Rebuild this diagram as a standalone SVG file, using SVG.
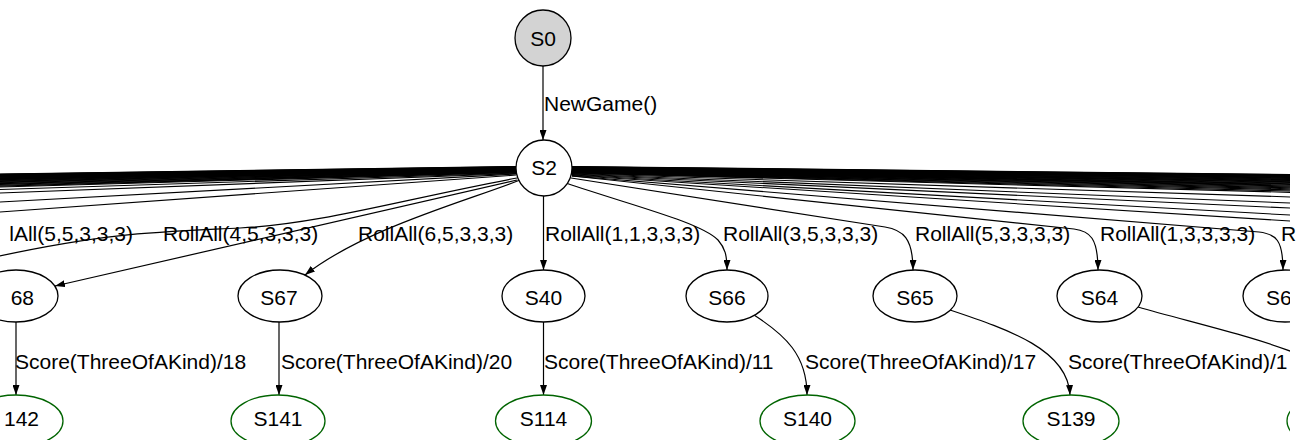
<svg xmlns="http://www.w3.org/2000/svg" width="1297" height="440" viewBox="0 0 1297 440">
<defs>
<style>
.e{fill:none;stroke:#000;stroke-width:1.2}
.f{fill:none;stroke:#000;stroke-width:1.1}
.n{fill:#fff;stroke:#000;stroke-width:1.3}
.s{fill:#d3d3d3;stroke:#000;stroke-width:1.3}
.g{fill:#fff;stroke:#006400;stroke-width:1.3}
text{font-family:"Liberation Sans",Arial,Helvetica,sans-serif;font-size:21px;fill:#000}
.c{text-anchor:middle}
.r{text-anchor:end}
</style>
<marker id="a" markerUnits="userSpaceOnUse" markerWidth="10" markerHeight="7" refX="10" refY="3.5" orient="auto"><path d="M0,0L10,3.5L0,7z" fill="#000"/></marker>
<clipPath id="clip"><rect x="0" y="0" width="1290" height="440"/></clipPath>
</defs>
<rect width="1297" height="440" fill="#fff"/>
<g clip-path="url(#clip)">
<g id="connectors">
<g id="fan-left">
<line class="f" x1="516" y1="166.5" x2="-5" y2="174.1"/>
<line class="f" x1="516" y1="166.7" x2="-5" y2="174.4"/>
<line class="f" x1="516" y1="167" x2="-5" y2="174.7"/>
<line class="f" x1="516" y1="167.2" x2="-5" y2="175"/>
<line class="f" x1="516" y1="167.4" x2="-5" y2="175.3"/>
<line class="f" x1="516" y1="167.6" x2="-5" y2="175.6"/>
<line class="f" x1="516" y1="167.9" x2="-5" y2="175.9"/>
<line class="f" x1="516" y1="168.1" x2="-5" y2="176.2"/>
<line class="f" x1="516" y1="168.3" x2="-5" y2="176.6"/>
<line class="f" x1="516" y1="168.6" x2="-5" y2="177"/>
<line class="f" x1="516" y1="168.8" x2="-5" y2="177.4"/>
<line class="f" x1="516" y1="169" x2="-5" y2="177.8"/>
<line class="f" x1="516" y1="169.3" x2="-5" y2="178.2"/>
<line class="f" x1="516" y1="169.5" x2="-5" y2="178.7"/>
<line class="f" x1="516" y1="169.7" x2="-5" y2="179.2"/>
<line class="f" x1="516" y1="170" x2="-5" y2="179.7"/>
<line class="f" x1="516" y1="170.2" x2="-5" y2="180.3"/>
<line class="f" x1="516" y1="170.4" x2="-5" y2="180.9"/>
<line class="f" x1="516" y1="170.6" x2="-5" y2="181.5"/>
<line class="f" x1="516" y1="170.9" x2="-5" y2="182.2"/>
<line class="f" x1="516" y1="171.1" x2="-5" y2="182.9"/>
<line class="f" x1="516" y1="171.3" x2="-5" y2="183.7"/>
<line class="f" x1="516" y1="171.6" x2="-5" y2="184.5"/>
<line class="f" x1="516" y1="171.8" x2="-5" y2="185.4"/>
<line class="f" x1="516" y1="172" x2="-5" y2="186.3"/>
<line class="f" x1="516" y1="172.5" x2="-5" y2="187.1"/>
<line class="f" x1="516" y1="173" x2="-5" y2="189.6"/>
<line class="f" x1="516" y1="173.5" x2="-5" y2="193.2"/>
<line class="f" x1="516" y1="174" x2="-5" y2="202.3"/>
<line class="f" x1="516" y1="175" x2="-5" y2="212.4"/>
</g>
<g id="fan-right">
<line class="f" x1="572" y1="166.5" x2="1300" y2="174.6"/>
<line class="f" x1="572" y1="166.7" x2="1300" y2="174.9"/>
<line class="f" x1="572" y1="166.9" x2="1300" y2="175.2"/>
<line class="f" x1="572" y1="167.2" x2="1300" y2="175.5"/>
<line class="f" x1="572" y1="167.4" x2="1300" y2="175.8"/>
<line class="f" x1="572" y1="167.6" x2="1300" y2="176.1"/>
<line class="f" x1="572" y1="167.8" x2="1300" y2="176.5"/>
<line class="f" x1="572" y1="168" x2="1300" y2="176.9"/>
<line class="f" x1="572" y1="168.3" x2="1300" y2="177.3"/>
<line class="f" x1="572" y1="168.5" x2="1300" y2="177.7"/>
<line class="f" x1="572" y1="168.7" x2="1300" y2="178.1"/>
<line class="f" x1="572" y1="168.9" x2="1300" y2="178.6"/>
<line class="f" x1="572" y1="169.1" x2="1300" y2="179.1"/>
<line class="f" x1="572" y1="169.4" x2="1300" y2="179.6"/>
<line class="f" x1="572" y1="169.6" x2="1300" y2="180.1"/>
<line class="f" x1="572" y1="169.8" x2="1300" y2="180.7"/>
<line class="f" x1="572" y1="170" x2="1300" y2="181.3"/>
<line class="f" x1="572" y1="170.2" x2="1300" y2="181.9"/>
<line class="f" x1="572" y1="170.5" x2="1300" y2="182.5"/>
<line class="f" x1="572" y1="170.7" x2="1300" y2="183.2"/>
<line class="f" x1="572" y1="170.9" x2="1300" y2="183.9"/>
<line class="f" x1="572" y1="171.1" x2="1300" y2="184.6"/>
<line class="f" x1="572" y1="171.3" x2="1300" y2="185.4"/>
<line class="f" x1="572" y1="171.6" x2="1300" y2="186.2"/>
<line class="f" x1="572" y1="171.8" x2="1300" y2="187.1"/>
<line class="f" x1="572" y1="172" x2="1300" y2="188"/>
<line class="f" x1="572" y1="172.2" x2="1300" y2="189"/>
<line class="f" x1="572" y1="172.4" x2="1300" y2="190.1"/>
<line class="f" x1="572" y1="172.7" x2="1300" y2="191.3"/>
<line class="f" x1="572" y1="172.9" x2="1300" y2="192.6"/>
<line class="f" x1="572" y1="173.5" x2="1300" y2="197.3"/>
<line class="f" x1="572" y1="174" x2="1300" y2="203.4"/>
<line class="f" x1="572" y1="174.5" x2="1300" y2="208.5"/>
<line class="f" x1="572" y1="175" x2="1300" y2="215.6"/>
<line class="f" x1="572" y1="175.5" x2="1300" y2="221.7"/>
</g>
<path class="e" d="M543,66L543,140" marker-end="url(#a)"/>
<path class="e" d="M517,178C400,200 320,224 240,228S110,232 -5,257"/>
<path class="e" d="M517,180L55,286" marker-end="url(#a)"/>
<path class="e" d="M520,180C470,200 365,228 305,275" marker-end="url(#a)"/>
<path class="e" d="M543.5,196L543.5,270" marker-end="url(#a)"/>
<path class="e" d="M566,183C630,205 700,222 718,240C725,248 727,255 727,270" marker-end="url(#a)"/>
<path class="e" d="M571,178L885,227C903,230 913,238 913,270" marker-end="url(#a)"/>
<path class="e" d="M572,176L1074,229C1090,231 1098,238 1098,270" marker-end="url(#a)"/>
<path class="e" d="M572,176L1259,232C1276,234 1283,240 1283,270" marker-end="url(#a)"/>
<path class="e" d="M16,322L16,395" marker-end="url(#a)"/>
<path class="e" d="M279,322L279,395" marker-end="url(#a)"/>
<path class="e" d="M543.5,322L543.5,395" marker-end="url(#a)"/>
<path class="e" d="M754,315C785,335 807,355 807,395" marker-end="url(#a)"/>
<path class="e" d="M950,310C1010,330 1068,350 1070,395" marker-end="url(#a)"/>
<path class="e" d="M1138,307C1190,322 1260,338 1300,355"/>
<text x="544" y="111">NewGame()</text>
<text class="r" x="133" y="241">lAll(5,5,3,3,3)</text>
<text x="163" y="241">RollAll(4,5,3,3,3)</text>
<text x="358" y="241">RollAll(6,5,3,3,3)</text>
<text x="545" y="241">RollAll(1,1,3,3,3)</text>
<text x="723" y="241">RollAll(3,5,3,3,3)</text>
<text x="915" y="241">RollAll(5,3,3,3,3)</text>
<text x="1100" y="241">RollAll(1,3,3,3,3)</text>
<text x="15" y="369">Score(ThreeOfAKind)/18</text>
<text x="281" y="369">Score(ThreeOfAKind)/20</text>
<text x="544" y="369">Score(ThreeOfAKind)/11</text>
<text x="805" y="369">Score(ThreeOfAKind)/17</text>
<text x="1068" y="369">Score(ThreeOfAKind)/1</text>
</g>
<g id="S0"><circle class="s" cx="543" cy="38" r="28"/><text class="c" x="543" y="46">S0</text></g>
<g id="S2"><circle class="n" cx="544" cy="168" r="28"/><text class="c" x="544" y="175">S2</text></g>
<g id="S68"><ellipse class="n" cx="16" cy="296" rx="42" ry="26"/><text class="r" x="34" y="305">68</text></g>
<g id="S67"><ellipse class="n" cx="280" cy="296" rx="42" ry="26"/><text class="c" x="279" y="305">S67</text></g>
<g id="S40"><ellipse class="n" cx="543.5" cy="296" rx="41.5" ry="26"/><text class="c" x="543.5" y="305">S40</text></g>
<g id="S66"><ellipse class="n" cx="727" cy="296" rx="41" ry="26"/><text class="c" x="727" y="305">S66</text></g>
<g id="S65"><ellipse class="n" cx="915" cy="296" rx="42" ry="26"/><text class="c" x="915" y="305">S65</text></g>
<g id="S64"><ellipse class="n" cx="1099.5" cy="296" rx="42.5" ry="26"/><text class="c" x="1099.5" y="305">S64</text></g>
<g id="S6x"><ellipse class="n" cx="1285" cy="296" rx="42" ry="26"/><text x="1266" y="305">S6</text></g>
<g id="S142"><ellipse class="g" cx="16" cy="421" rx="47" ry="26"/><text class="r" x="39" y="426">142</text></g>
<g id="S141"><ellipse class="g" cx="278" cy="421" rx="47" ry="26"/><text class="c" x="278" y="426">S141</text></g>
<g id="S114"><ellipse class="g" cx="543.5" cy="421" rx="48" ry="26"/><text class="c" x="543.5" y="426">S114</text></g>
<g id="S140"><ellipse class="g" cx="807.5" cy="421" rx="47.5" ry="26"/><text class="c" x="807.5" y="426">S140</text></g>
<g id="S139"><ellipse class="g" cx="1071" cy="421" rx="48" ry="26"/><text class="c" x="1071" y="426">S139</text></g>
<g id="Sx"><ellipse class="g" cx="1334" cy="421" rx="47" ry="26"/></g>
</g>
<text x="1281" y="241">R</text>
</svg>
